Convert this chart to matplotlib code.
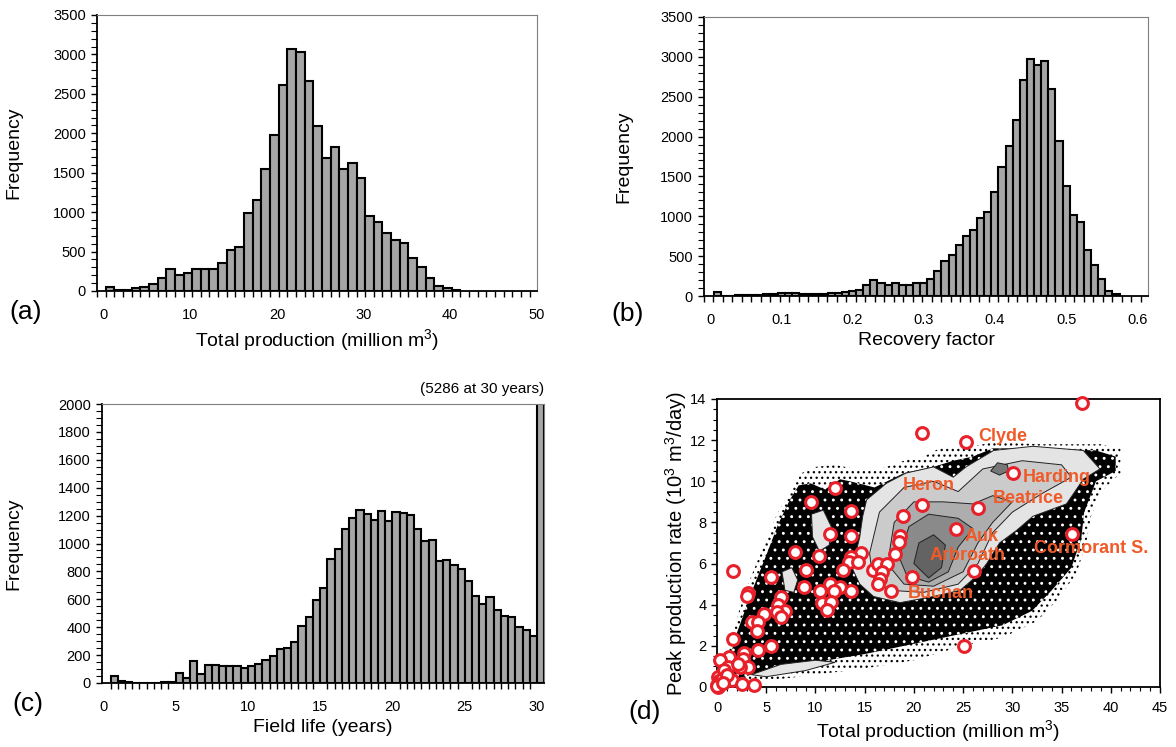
import numpy as np
import matplotlib
matplotlib.use("Agg")
import matplotlib.pyplot as plt
from matplotlib.patches import Polygon
from matplotlib.ticker import MultipleLocator, FixedLocator

plt.rcParams['font.family'] = ['Liberation Sans', 'DejaVu Sans']
plt.rcParams['mathtext.fontset'] = 'custom'
plt.rcParams['mathtext.rm'] = 'Liberation Sans'
plt.rcParams['mathtext.it'] = 'Liberation Sans:italic'
plt.rcParams['hatch.linewidth'] = 0.9

# --- (a) total production histogram (bins of 1 million m3) ---
a_bin_start = 0.2
a_counts = [55, 13, 15, 34, 50, 85, 170, 283, 203, 224, 279, 279, 279, 359, 520,
            562, 985, 1154, 1543, 1978, 2608, 3065, 3027, 2667, 2088, 1691, 1830,
            1543, 1619, 1429, 955, 875, 731, 647, 604, 414, 300, 161, 59, 38, 17]

# --- (b) recovery factor histogram (bins of 0.01, centred) ---
b_first_centre = 0.01
b_counts = [46, 0, 0, 13, 13, 13, 13, 21, 29, 38, 42, 42, 29, 25, 25, 29, 42, 42,
            55, 63, 76, 134, 206, 164, 143, 168, 143, 134, 160, 164, 214, 311, 436,
            512, 646, 751, 827, 974, 1057, 1301, 1620, 1876, 2203, 2711, 2975, 2900,
            2942, 2598, 1939, 1381, 1016, 932, 583, 386, 218, 63, 21]

# --- (c) field life histogram (bins of 0.5 years) ---
c_bin_start = 0.5
c_counts = [48, 12, 7, 0, 0, 0, 0, 10, 10, 72, 36, 160, 65, 131, 127, 119, 119, 119,
            108, 119, 139, 167, 196, 246, 251, 296, 409, 471, 597, 681, 891, 963,
            1106, 1183, 1240, 1214, 1171, 1231, 1159, 1226, 1219, 1202, 1106, 1016,
            1027, 872, 882, 848, 815, 734, 626, 566, 614, 521, 478, 476, 404, 378,
            337, 5286]

# --- (d) simulated cloud envelopes and density contours (total prod, peak rate) ---
cloud_sparse = [(0.2, 0.3), (1.5, 2.6), (3, 4.8), (4.5, 6.6), (6, 8.3), (7.5, 9.6),
                (8.6, 10.4), (10, 10.7), (12, 10.8), (14, 10.6), (16, 10.5), (19, 11.0),
                (21, 11.2), (23, 11.7), (26, 11.7), (28, 11.9), (33, 11.8), (39, 11.8),
                (41, 11.6), (41, 10.4), (39, 9.5), (38, 8.3), (37.5, 7), (36.5, 5.5),
                (34.5, 4.2), (32.5, 3.2), (29, 2.4), (25, 2.0), (20, 1.3), (15, 0.9),
                (10, 0.6), (5, 0.3), (2, 0.1)]
cloud_dense = [(0.8, 0.6), (2, 2.6), (3.5, 4.6), (5, 6.4), (6.2, 7.9), (7.4, 9.1),
               (8.3, 9.8), (9.5, 9.9), (11, 9.6), (12.5, 10.1), (13.5, 10.0), (16, 9.7),
               (19, 10.4), (22, 10.7), (24, 11.0), (26, 11.2), (28, 11.6), (33, 11.6),
               (38.5, 11.5), (40.5, 11.2), (40.5, 10.5), (38.5, 10.0), (37.3, 8.5),
               (37, 7.2), (36, 5.8), (34, 4.7), (32, 3.7), (29, 3.0), (25, 2.6),
               (20, 2.1), (15, 1.6), (10, 1.2), (5, 0.8), (2, 0.4)]
level1 = [(15.2, 9.1), (17.2, 9.9), (19.2, 10.4), (22, 10.7), (24, 10.2), (25.3, 10.7),
          (28.1, 11.5), (32.1, 11.7), (37.2, 11.5), (38.9, 10.6), (37.2, 10.1),
          (36.5, 9.6), (35.5, 8.9), (32.1, 8.3), (30.4, 7.6), (28.7, 7.0), (27.4, 6.0),
          (26.4, 5.4), (24.7, 4.7), (22, 4.4), (18.6, 4.1), (15.9, 4.4), (14.5, 5.0),
          (13.8, 5.7), (14.2, 6.7), (14.5, 7.3), (14.8, 8.3)]
level1_blobs = [
    [(9.6, 8.4), (10.8, 8.6), (11.6, 7.8), (11.4, 6.9), (10.4, 6.6), (9.7, 7.3)],
    [(6.6, 5.6), (7.6, 5.8), (8.2, 5.2), (7.8, 4.6), (6.9, 4.7)],
    [(3.5, 0.6), (6.5, 1.1), (10, 1.3), (12, 1.2), (9, 0.8), (5, 0.5)],
]
level2 = [(15.5, 6.5), (16.5, 8.5), (19, 9.7), (22, 10.0), (24.5, 9.5), (27, 10.6),
          (31, 11.0), (35, 10.8), (36, 10.2), (33, 9.4), (30, 8.5), (28, 7.5),
          (26.5, 6.0), (24.5, 5.0), (21, 4.6), (17.5, 4.7), (15.8, 5.4)]
level3 = [(17.5, 6.5), (18, 8.0), (20, 9.0), (23, 9.0), (26, 8.9), (28, 9.3), (30, 9.0),
          (28, 8.0), (26.5, 7.0), (25, 5.6), (22, 4.9), (19, 5.0), (17.8, 5.7)]
level4 = [(18.5, 6.3), (19.5, 7.8), (21.5, 8.4), (24.5, 8.2), (26, 7.7), (24.5, 6.8),
          (23.5, 5.6), (21.5, 5.1), (19.3, 5.4)]
level4_spot = [(27.8, 10.5), (28.5, 10.9), (29.5, 10.8), (29.6, 10.5), (28.7, 10.3)]
level5 = [(20, 6.0), (20.5, 7.0), (22, 7.4), (23.2, 6.9), (22.8, 5.8), (21.5, 5.3)]

# --- (d) real fields (red circles) ---
fields_x = [37.1, 20.8, 25.3, 30.1, 20.8, 26.5, 18.9, 24.3, 36.1, 18.6, 18.5, 18.1, 26.1,
            19.8, 17.7, 11.96, 9.52, 13.66, 11.45, 13.6, 7.9, 10.4, 14.6, 13.66, 13.4,
            14.3, 12.8, 9.08, 15.86, 16.37, 17.3, 16.8, 16.6, 16.4, 8.84, 11.5, 12.5,
            10.5, 11.9, 13.6, 10.7, 11.6, 11.2, 25.1,
            1.59, 5.45, 3.18, 3.0, 6.5, 6.23, 6.9, 6.06, 6.5, 4.81, 3.52, 4.13, 4.03,
            1.66, 5.45, 4.2, 2.78, 2.68, 1.25, 0.3, 3.18, 2.34, 1.08, 2.17, 0.47, 0.13,
            0.74, 1.56, 2.5, 3.76, 0.0, 0.3, 0.13, 0.2, 0.5, 1.0, 0.05, 0.6]
fields_y = [13.8, 12.34, 11.9, 10.4, 8.85, 8.69, 8.33, 7.68, 7.42, 7.34, 7.07, 6.46, 5.65,
            5.33, 4.66, 9.66, 9.01, 8.56, 7.44, 7.36, 6.55, 6.38, 6.5, 6.33, 6.09,
            6.09, 5.67, 5.67, 5.68, 5.96, 5.96, 5.6, 5.23, 5.0, 4.87, 5.03, 4.86,
            4.66, 4.66, 4.66, 4.06, 4.11, 3.74, 1.98,
            5.65, 5.36, 4.55, 4.44, 4.36, 3.99, 3.71, 3.66, 3.39, 3.55, 3.14, 3.14, 2.74,
            2.32, 1.99, 1.8, 1.63, 1.36, 1.44, 1.31, 0.96, 0.99, 0.99, 1.14, 0.61, 0.48,
            0.83, 0.34, 0.15, 0.10, 0.1, 0.17, 0.0, 0.3, 0.4, 0.6, 0.05, 0.2]

field_names = ['Clyde', 'Harding', 'Beatrice', 'Heron', 'Auk', 'Arbroath',
               'Cormorant S.', 'Buchan']
name_x = [26.5, 31.1, 28.0, 18.9, 25.1, 21.6, 32.2, 19.4]
name_y = [12.18, 10.2, 9.14, 9.78, 7.31, 6.38, 6.71, 4.55]

W, H = 1176, 747
fig = plt.figure(figsize=(W / 100, H / 100), dpi=100)


def box(l, t, r, b):
    return [l / W, 1 - b / H, (r - l) / W, (b - t) / H]


def style_hist(ax):
    for s in ['top', 'right']:
        ax.spines[s].set_color('#7f7f7f')
        ax.spines[s].set_linewidth(0.8)
    for s in ['left', 'bottom']:
        ax.spines[s].set_linewidth(1.3)
    ax.tick_params(which='both', direction='out', labelsize=10.5)
    ax.tick_params(axis='x', which='major', length=0, pad=12)
    ax.tick_params(axis='x', which='minor', length=4, width=1)
    ax.tick_params(axis='y', which='major', length=4, width=1, pad=4)
    ax.tick_params(axis='y', which='minor', length=4, width=0.8)


bar_style = dict(color='#a6a6a6', edgecolor='black', linewidth=1.5)

# (a)
ax = fig.add_axes(box(97, 15, 537, 291))
a_left = a_bin_start + np.arange(len(a_counts))
ax.bar(a_left, a_counts, width=1.0, align='edge', **bar_style)
ax.set_xlim(-0.8, 50.06)
ax.set_ylim(0, 3500)
ax.set_xticks(range(0, 51, 10))
ax.xaxis.set_minor_locator(FixedLocator(np.arange(-0.8, 50.1, 1.0)))
ax.set_yticks(range(0, 3501, 500))
ax.yaxis.set_minor_locator(MultipleLocator(100))
style_hist(ax)
ax.set_ylabel('Frequency', fontsize=14, labelpad=22)
ax.set_xlabel('Total production (million m$^3$)', fontsize=14, labelpad=4)

# (b)
ax = fig.add_axes(box(704, 17, 1148, 296))
b_centres = b_first_centre + 0.01 * np.arange(len(b_counts))
ax.bar(b_centres, b_counts, width=0.01, **bar_style)
ax.set_xlim(-0.0085, 0.615)
ax.set_ylim(0, 3500)
ax.set_xticks(np.arange(0, 0.61, 0.1))
ax.set_xticklabels(['0', '0.1', '0.2', '0.3', '0.4', '0.5', '0.6'])
ax.xaxis.set_minor_locator(FixedLocator(np.arange(-0.0085, 0.615, 0.01333)))
ax.set_yticks(range(0, 3501, 500))
ax.yaxis.set_minor_locator(MultipleLocator(100))
style_hist(ax)
ax.set_ylabel('Frequency', fontsize=14, labelpad=20)
ax.set_xlabel('Recovery factor', fontsize=14, labelpad=4)

# (c)
ax = fig.add_axes(box(102, 404, 544, 683))
c_left = c_bin_start + 0.5 * np.arange(len(c_counts))
ax.bar(c_left, c_counts, width=0.5, align='edge', **bar_style)
ax.set_xlim(-0.09, 30.48)
ax.set_ylim(0, 2000)
ax.set_xticks(range(0, 31, 5))
ax.xaxis.set_minor_locator(FixedLocator(np.arange(0, 30.5, 0.5)))
ax.set_yticks(range(0, 2001, 200))
ax.yaxis.set_minor_locator(MultipleLocator(50))
style_hist(ax)
ax.set_ylabel('Frequency', fontsize=14, labelpad=26)
ax.set_xlabel('Field life (years)', fontsize=14, labelpad=4)
ax.text(1.0, 1.055, '(%d at 30 years)' % c_counts[-1], transform=ax.transAxes,
        ha='right', va='center', fontsize=11)

# (d)
ax = fig.add_axes(box(717, 399, 1160, 687))
ax.add_patch(Polygon(cloud_sparse, closed=True, facecolor='white', edgecolor='black',
                     hatch='...', linewidth=0, zorder=1))
ax.add_patch(Polygon(cloud_dense, closed=True, facecolor='black', edgecolor='white',
                     hatch='..', linewidth=0, zorder=2))
ax.add_patch(Polygon(level1, closed=True, facecolor='#e4e4e4', edgecolor='#222222',
                     linewidth=0.7, zorder=3))
for blob in level1_blobs:
    ax.add_patch(Polygon(blob, closed=True, facecolor='#e4e4e4', edgecolor='#222222',
                         linewidth=0.7, zorder=3))
for poly, shade, z in [(level2, '#cbcbcb', 4), (level3, '#adadad', 5),
                       (level4, '#8a8a8a', 6), (level4_spot, '#777777', 6),
                       (level5, '#636363', 7)]:
    ax.add_patch(Polygon(poly, closed=True, facecolor=shade, edgecolor='#222222',
                         linewidth=0.7, zorder=z))
ax.plot(fields_x, fields_y, 'o', markersize=8.5, markerfacecolor='white',
        markeredgecolor='#e8202a', markeredgewidth=2.2, zorder=10, clip_on=False)
for name, x, y in zip(field_names, name_x, name_y):
    ax.text(x, y, name, color='#f05a28', fontsize=13, fontweight='bold',
            ha='left', va='center', zorder=11)
ax.set_xlim(0, 45)
ax.set_ylim(0, 14)
ax.set_xticks(range(0, 46, 5))
ax.xaxis.set_minor_locator(MultipleLocator(1))
ax.set_yticks(range(0, 15, 2))
ax.yaxis.set_minor_locator(MultipleLocator(0.5))
for s in ax.spines.values():
    s.set_linewidth(1.3)
ax.tick_params(which='both', direction='out', labelsize=10.5)
ax.tick_params(which='major', length=4, width=1)
ax.tick_params(which='minor', length=3, width=0.8)
ax.tick_params(axis='x', pad=6)
ax.set_xlabel('Total production (million m$^3$)', fontsize=14, labelpad=2)
ax.set_ylabel('Peak production rate (10$^3$ m$^3$/day)', fontsize=14.5, labelpad=1)

# panel letters
for letter, x, y in [('(a)', 26, 312), ('(b)', 628, 314), ('(c)', 28, 704), ('(d)', 645, 712)]:
    fig.text(x / W, 1 - y / H, letter, fontsize=19, ha='center', va='center')

fig.savefig('out.png', dpi=100)
